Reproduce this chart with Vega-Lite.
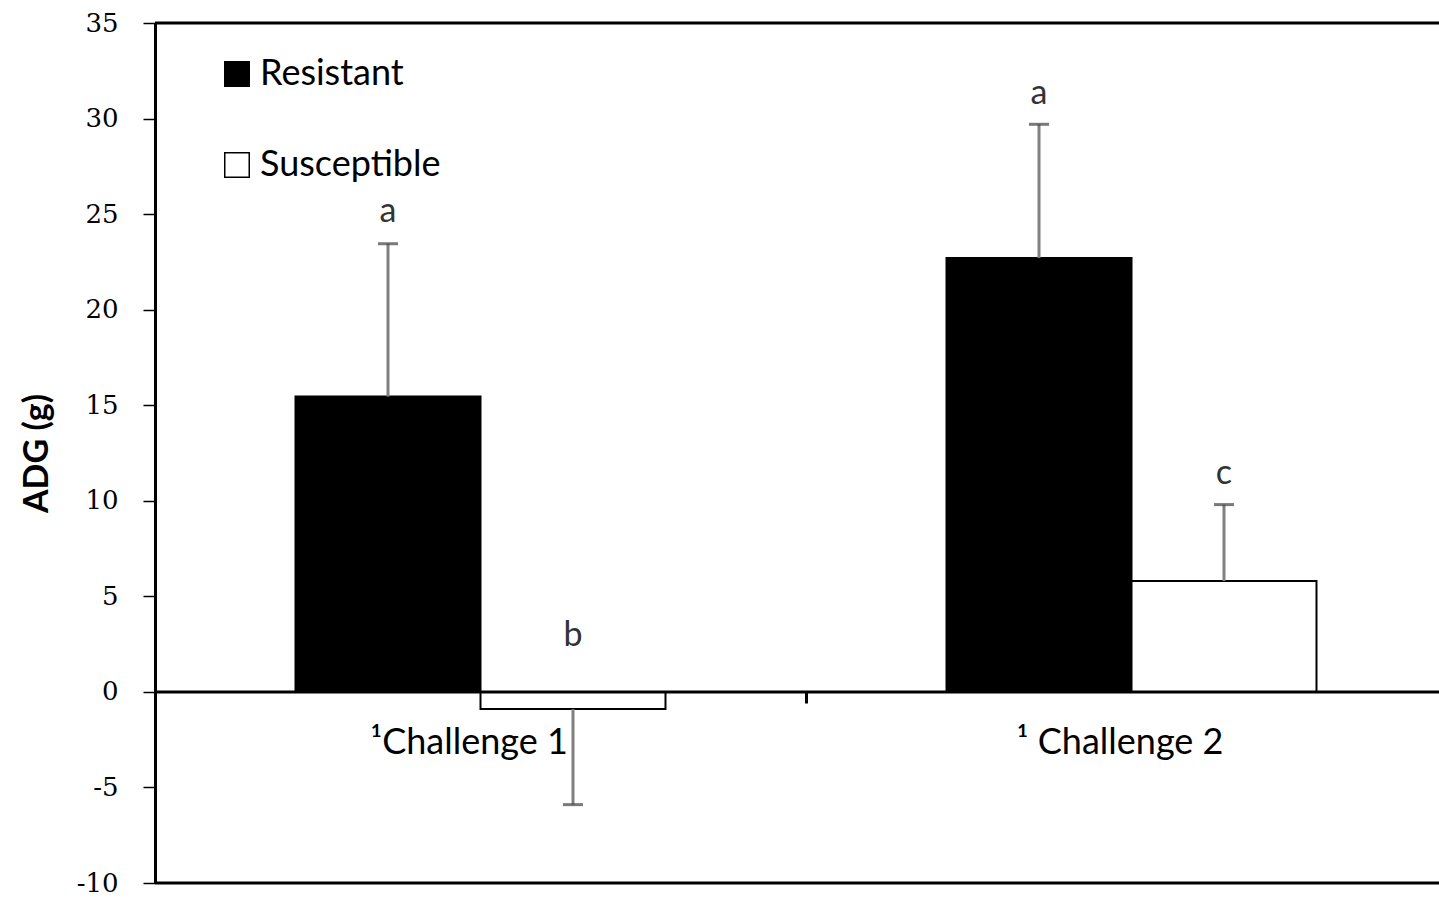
{
  "$schema": "https://vega.github.io/schema/vega-lite/v6.json",
  "width": 1284,
  "height": 860,
  "autosize": {"type": "none"},
  "padding": {"left": 155, "top": 23, "right": 0, "bottom": 15},
  "background": "white",
  "config": {
    "view": {"stroke": null},
    "font": "Lato",
    "axisY": {
      "grid": false,
      "domainColor": "black",
      "domainWidth": 3,
      "tickColor": "black",
      "tickWidth": 1.5,
      "tickSize": 12,
      "labelFont": "DejaVu Serif",
      "labelFontSize": 26,
      "labelPadding": 25,
      "labelColor": "black",
      "titleFont": "Lato",
      "titleFontSize": 34,
      "titleFontWeight": "bold",
      "titleColor": "black",
      "titlePadding": 22
    },
    "axisX": {
      "grid": false,
      "domain": false,
      "tickBand": "extent",
      "tickColor": "black",
      "tickWidth": 3,
      "tickSize": 11,
      "labelFontSize": 36,
      "labelColor": "black",
      "labelPadding": 22,
      "labelAngle": 0,
      "labelOffset": -12,
      "labelLimit": 0
    },
    "legend": {
      "orient": "none",
      "legendX": 64,
      "legendY": 33,
      "symbolType": "square",
      "symbolSize": 600,
      "symbolStrokeColor": "black",
      "symbolStrokeWidth": 1.5,
      "labelFontSize": 36,
      "labelColor": "black",
      "labelLimit": 0,
      "rowPadding": 55,
      "labelOffset": 5
    }
  },
  "datasets": {
    "bars": [
      {"challenge": "¹Challenge 1", "group": "Resistant", "adg": 15.45, "err_end": 23.45},
      {"challenge": "¹Challenge 1", "group": "Susceptible", "adg": -0.9, "err_end": -5.9},
      {"challenge": "¹ Challenge 2", "group": "Resistant", "adg": 22.7, "err_end": 29.7},
      {"challenge": "¹ Challenge 2", "group": "Susceptible", "adg": 5.8, "err_end": 9.8}
    ],
    "letters": [
      {"challenge": "¹Challenge 1", "group": "Resistant", "letter": "a", "pos": 25.1},
      {"challenge": "¹Challenge 1", "group": "Susceptible", "letter": "b", "pos": 2.9},
      {"challenge": "¹ Challenge 2", "group": "Resistant", "letter": "a", "pos": 31.3},
      {"challenge": "¹ Challenge 2", "group": "Susceptible", "letter": "c", "pos": 11.4}
    ]
  },
  "layer": [
    {
      "data": {"name": "bars"},
      "mark": {"type": "bar", "stroke": "black", "strokeWidth": 2},
      "encoding": {
        "x": {"field": "challenge", "type": "nominal", "sort": null, "title": null,
              "scale": {"range": [0, 1302], "paddingInner": 0, "paddingOuter": 0},
              "axis": {"offset": -191}},
        "xOffset": {"field": "group", "type": "nominal", "scale": {"paddingInner": 0, "paddingOuter": 0.7595}},
        "y": {"field": "adg", "type": "quantitative", "title": "ADG (g)",
              "scale": {"domain": [-10, 35], "nice": false, "zero": false},
              "axis": {"values": [-10, -5, 0, 5, 10, 15, 20, 25, 30, 35], "labelExpr": "toString(datum.value)"}},
        "fill": {"field": "group", "type": "nominal", "title": null,
                 "scale": {"domain": ["Resistant", "Susceptible"], "range": ["black", "white"]}}
      }
    },
    {
      "data": {"name": "bars"},
      "mark": {"type": "rule", "color": "#808080", "strokeWidth": 3},
      "encoding": {
        "x": {"field": "challenge", "type": "nominal", "sort": null, "title": null},
        "xOffset": {"field": "group", "type": "nominal"},
        "y": {"field": "adg", "type": "quantitative", "title": "ADG (g)"},
        "y2": {"field": "err_end"}
      }
    },
    {
      "data": {"name": "bars"},
      "mark": {"type": "tick", "color": "#404040", "thickness": 3, "size": 20},
      "encoding": {
        "x": {"field": "challenge", "type": "nominal", "sort": null, "title": null},
        "xOffset": {"field": "group", "type": "nominal"},
        "y": {"field": "err_end", "type": "quantitative", "title": "ADG (g)"}
      }
    },
    {
      "data": {"name": "letters"},
      "mark": {"type": "text", "fontSize": 34, "color": "#333333", "baseline": "middle"},
      "encoding": {
        "x": {"field": "challenge", "type": "nominal", "sort": null, "title": null},
        "xOffset": {"field": "group", "type": "nominal"},
        "y": {"field": "pos", "type": "quantitative", "title": "ADG (g)"},
        "text": {"field": "letter"}
      }
    },
    {
      "data": {"values": [{"level": 0}, {"level": 35}, {"level": -10}]},
      "mark": {"type": "rule", "color": "black", "strokeWidth": 3},
      "encoding": {"y": {"field": "level", "type": "quantitative", "title": "ADG (g)"}}
    }
  ]
}
